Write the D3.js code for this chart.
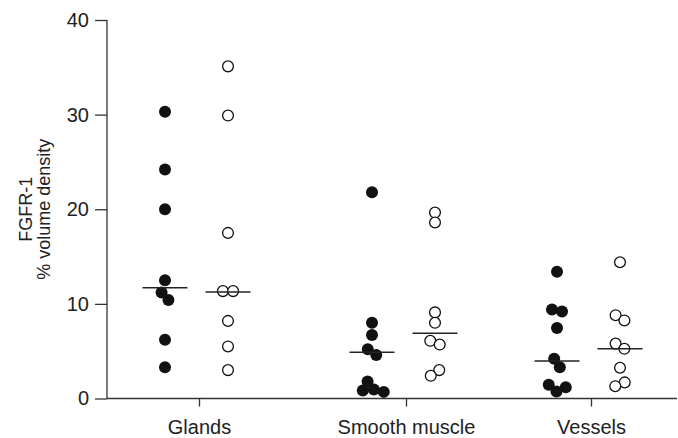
<!DOCTYPE html>
<html>
<head>
<meta charset="utf-8">
<script src="https://cdn.jsdelivr.net/npm/d3@7"></script>
<style>
  body { margin: 0; background: #fff; }
  text { font-family: "Liberation Sans", Arial, sans-serif; fill: #222; }
</style>
</head>
<body>
<script>
// categories and values
let categories = ["Glands", "Smooth muscle", "Vessels"];
let filledValues = [
  [30.3, 24.2, 20.0, 12.5, 11.2, 10.4, 6.2, 3.3],
  [21.8, 8.0, 6.7, 5.2, 4.6, 1.8, 0.95, 0.85, 0.7],
  [13.4, 9.4, 9.2, 7.45, 4.2, 3.3, 1.45, 1.2, 0.75]
];
let openValues = [
  [35.1, 29.9, 17.5, 11.35, 11.35, 8.2, 5.5, 3.0],
  [19.65, 18.6, 9.1, 8.0, 6.1, 5.7, 3.0, 2.4],
  [14.4, 8.8, 8.25, 5.8, 5.25, 3.25, 1.7, 1.3]
];
let filledMedians = [11.7, 4.9, 3.95];
let openMedians = [11.25, 6.9, 5.25];
let yTicks = [0, 10, 20, 30, 40];

let w = 678;
let h = 438;
let svg = d3.select("body").append("svg").attr("width", w).attr("height", h);

let y = d3.scaleLinear().domain([0, 40]).range([398.5, 20]);
let x = d3.scaleOrdinal().domain(categories).range([199, 406, 591]);
let filledOffset = -34;
let openOffset = 29;
let r = 6;

// axes
let yAxis = svg.append("g")
  .attr("transform", "translate(107,0)")
  .call(d3.axisLeft(y).tickValues(yTicks).tickSize(12).tickSizeOuter(0).tickPadding(6));
yAxis.select(".domain").remove();
yAxis.selectAll("line").attr("stroke", "#333").attr("stroke-width", 1.3);
yAxis.selectAll("text").attr("font-size", "20px").attr("fill", "#222");

svg.append("line")
  .attr("x1", 107).attr("x2", 107)
  .attr("y1", y(40)).attr("y2", y(0))
  .attr("stroke", "#333").attr("stroke-width", 1.3);

let xAxis = svg.append("g")
  .attr("transform", "translate(0," + y(0) + ")")
  .call(d3.axisBottom(x).tickSize(8).tickPadding(13));
xAxis.select(".domain").remove();
xAxis.selectAll("line").attr("stroke", "#333").attr("stroke-width", 1.3);
xAxis.selectAll("text").attr("font-size", "20px").attr("fill", "#222");

svg.append("line")
  .attr("x1", 107).attr("x2", 677)
  .attr("y1", y(0)).attr("y2", y(0))
  .attr("stroke", "#333").attr("stroke-width", 1.3);

// y title
let title = svg.append("text")
  .attr("transform", "translate(0," + ((y(0) + y(40)) / 2) + ") rotate(-90)")
  .attr("text-anchor", "middle")
  .attr("font-size", "18px")
  .attr("fill", "#222");
title.append("tspan").attr("x", 0).attr("y", 32).text("FGFR-1");
title.append("tspan").attr("x", 0).attr("y", 50).text("% volume density");

// spread overlapping points sideways like a column scatter
function spread(values, cx) {
  let nodes = values.map(function(v) {
    return { v: v, x: cx, y: y(v), fy: y(v) };
  });
  let sim = d3.forceSimulation(nodes)
    .force("x", d3.forceX(cx).strength(0.1))
    .force("collide", d3.forceCollide(5.1))
    .stop();
  for (let i = 0; i < 300; i++) sim.tick();
  return nodes;
}

let points = svg.append("g");
let medians = svg.append("g");

categories.forEach(function(c, i) {
  let fc = x(c) + filledOffset;
  let oc = x(c) + openOffset;

  points.selectAll(".f" + i)
    .data(spread(filledValues[i], fc))
    .enter()
    .append("circle")
    .attr("cx", function(d) { return d.x; })
    .attr("cy", function(d) { return d.y; })
    .attr("r", r)
    .attr("fill", "#111");

  points.selectAll(".o" + i)
    .data(spread(openValues[i], oc))
    .enter()
    .append("circle")
    .attr("cx", function(d) { return d.x; })
    .attr("cy", function(d) { return d.y; })
    .attr("r", r - 0.6)
    .attr("fill", "#fff")
    .attr("stroke", "#111")
    .attr("stroke-width", 1.3);

  medians.append("line")
    .attr("x1", fc - 22.5).attr("x2", fc + 22.5)
    .attr("y1", y(filledMedians[i])).attr("y2", y(filledMedians[i]))
    .attr("stroke", "#222").attr("stroke-width", 1.5);
  medians.append("line")
    .attr("x1", oc - 22.5).attr("x2", oc + 22.5)
    .attr("y1", y(openMedians[i])).attr("y2", y(openMedians[i]))
    .attr("stroke", "#222").attr("stroke-width", 1.5);
});
</script>
</body>
</html>
